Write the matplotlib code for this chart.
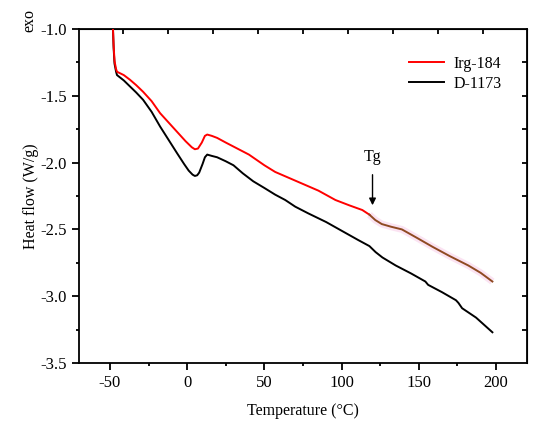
import matplotlib
matplotlib.use("Agg")
import matplotlib.pyplot as plt
import numpy as np

plt.rcParams['font.family'] = ['Liberation Serif', 'DejaVu Serif']
plt.rcParams['font.size'] = 11.5

# DSC curves (temperature in °C, heat flow in W/g)
irg_t = [-48, -47.6, -47, -46, -45.4, -41, -37, -33, -28.5, -23, -17.5, -12, -6.5, -1, 3, 5, 7,
         9.5, 11.5, 13, 16, 19.4, 25, 30, 40, 50, 57, 65, 75, 85, 96, 105, 113.4, 118]
irg_hf = [-1.0, -1.12, -1.24, -1.3, -1.32, -1.345, -1.38, -1.42, -1.47, -1.54, -1.63, -1.70, -1.77,
          -1.84, -1.885, -1.9, -1.895, -1.85, -1.80, -1.79, -1.80, -1.815, -1.85, -1.88, -1.94,
          -2.02, -2.07, -2.11, -2.16, -2.21, -2.28, -2.32, -2.355, -2.39]
# part of the red curve above Tg (drawn brown in the original)
irg_t2 = [118, 121.8, 126, 132, 139, 149, 158.8, 170, 182, 190, 197.6]
irg_hf2 = [-2.39, -2.43, -2.46, -2.48, -2.50, -2.565, -2.63, -2.70, -2.77, -2.825, -2.89]

d_t = [-48, -47.6, -47, -46, -45.4, -41, -37, -33, -28.5, -23, -17.5, -12, -6.5, -2, 1, 3.5, 5,
       6.5, 7.8, 10, 11.5, 13, 16, 19.4, 25, 30, 36, 42.8, 50, 57, 63.5, 70, 78.4, 90, 100, 110.8,
       118, 122, 126.4, 135, 145, 154.2, 156, 165, 174, 175.6, 178, 187, 197.6]
d_hf = [-1.0, -1.14, -1.26, -1.32, -1.345, -1.385, -1.43, -1.475, -1.53, -1.62, -1.73, -1.83,
        -1.93, -2.01, -2.06, -2.09, -2.10, -2.095, -2.075, -2.01, -1.96, -1.94, -1.95, -1.96,
        -1.99, -2.02, -2.08, -2.14, -2.19, -2.24, -2.28, -2.33, -2.38, -2.445, -2.51, -2.58,
        -2.625, -2.67, -2.71, -2.77, -2.83, -2.89, -2.915, -2.97, -3.03, -3.05, -3.09, -3.16, -3.27]

fig = plt.figure(figsize=(5.5, 4.28), dpi=100)
ax = fig.add_axes([79 / 550, 1 - 363 / 428, 448 / 550, 334 / 428])

ax.plot(irg_t2, irg_hf2, color='#fbe3f2', lw=5, solid_capstyle='butt', zorder=1)
ax.plot(d_t, d_hf, color='black', lw=1.4, label='D-1173', zorder=2)
ax.plot(irg_t, irg_hf, color='#ff0000', lw=1.4, label='Irg-184', zorder=3)
ax.plot(irg_t2, irg_hf2, color='#8f4a22', lw=1.4, zorder=3)

ax.annotate('', xy=(120, -2.34), xytext=(120, -2.07),
            arrowprops=dict(arrowstyle='-|>', color='black', lw=1, mutation_scale=10))
ax.text(120, -1.96, 'Tg', ha='center', va='center')

ax.set_xlim(-70, 220)
ax.set_ylim(-3.5, -1.0)
ax.set_xticks([-50, 0, 50, 100, 150, 200])
ax.set_xticks([-25, 25, 75, 125, 175], minor=True)
ax.set_yticks([-3.5, -3.0, -2.5, -2.0, -1.5, -1.0])
ax.set_yticks(np.arange(-3.25, -1.0, 0.5), minor=True)
ax.set_yticklabels(['-3.5', '-3.0', '-2.5', '-2.0', '-1.5', '-1.0'])
ax.set_xticklabels(['-50', '0', '50', '100', '150', '200'])
ax.tick_params(which='major', direction='out', length=5, width=1.3, labelsize=12)
ax.tick_params(which='minor', direction='out', length=2.5, width=1.3)
for s in ax.spines.values():
    s.set_linewidth(1.3)

# top and right ticks, pointing inward
top = ax.secondary_xaxis('top')
top.set_xticks([-41.5 + 29.1 * i for i in range(9)])
top.set_xticklabels([])
top.tick_params(direction='in', length=3.5, width=1.3)
right = ax.secondary_yaxis('right')
right.set_yticks(np.arange(-3.25, -1.0, 0.25))
right.set_yticklabels([])
right.tick_params(direction='in', length=3.5, width=1.3)

ax.set_xlabel('Temperature (°C)', labelpad=9)
ax.set_ylabel('Heat flow (W/g)', labelpad=1)
fig.text(29 / 550, 1 - 21 / 428, 'exo', rotation=90, ha='center', va='center')

h, l = ax.get_legend_handles_labels()
ax.legend(h[::-1], l[::-1], loc='upper right', bbox_to_anchor=(0.975, 0.962), frameon=False,
          handlelength=2.2, handletextpad=0.6, labelspacing=0.25)

fig.savefig('out.png', dpi=100)
